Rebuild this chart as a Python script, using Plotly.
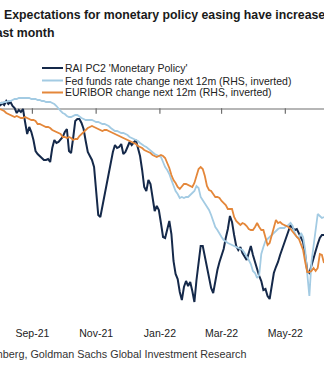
import pandas as pd
import plotly.graph_objects as go

# Observations every second calendar day
dates = pd.date_range("2021-08-01", periods=156, freq="2D")

# RAI PC2 'Monetary Policy' (LHS)
rai_pc2 = [
    0.03, 0.06, 0.04, 0.08, 0.05, 0.07, 0.03, 0.01, -0.04, -0.01,
    -0.03, 0.00, -0.13, -0.25, -0.18, -0.23, -0.31, -0.42, -0.45, -0.47,
    -0.48, -0.51, -0.51, -0.50, -0.53, -0.39, -0.31, -0.34, -0.33, -0.31,
    -0.28, -0.23, -0.20, -0.42, -0.44, -0.29, -0.12, -0.10, -0.10, -0.14,
    -0.20, -0.32, -0.43, -0.47, -0.51, -0.58, -0.81, -1.06, -1.08, -0.97,
    -0.87, -0.77, -0.68, -0.56, -0.43, -0.36, -0.39, -0.38, -0.35, -0.45,
    -0.43, -0.38, -0.33, -0.36, -0.33, -0.31, -0.39, -0.47, -0.61, -0.78,
    -0.82, -0.71, -0.75, -0.88, -1.02, -0.97, -1.01, -1.14, -1.28, -1.29,
    -1.20, -1.12, -1.25, -1.52, -1.65, -1.70, -1.83, -1.91, -1.78, -1.72,
    -1.77, -1.73, -1.82, -1.93, -1.71, -1.54, -1.37, -1.37, -1.48, -1.57,
    -1.68, -1.79, -1.84, -1.72, -1.61, -1.53, -1.46, -1.40, -1.29, -1.20,
    -1.07, -1.13, -1.26, -1.37, -1.41, -1.38, -1.44, -1.48, -1.51, -1.44,
    -1.37, -1.46, -1.53, -1.61, -1.67, -1.72, -1.81, -1.80, -1.87, -1.90,
    -1.79, -1.64, -1.58, -1.53, -1.46, -1.40, -1.33, -1.27, -1.20, -1.16,
    -1.19, -1.21, -1.20, -1.24, -1.28, -1.33, -1.46, -1.62, -1.64, -1.56,
    -1.50, -1.42, -1.35, -1.29, -1.26, -1.26,
]

# Fed funds rate change priced over the next 12 months, pp (RHS, inverted)
fed_funds_chg = [
    0.13, 0.13, 0.12, 0.12, 0.11, 0.11, 0.10, 0.09, 0.09, 0.08,
    0.08, 0.08, 0.08, 0.08, 0.08, 0.09, 0.09, 0.09, 0.10, 0.10,
    0.11, 0.11, 0.12, 0.12, 0.12, 0.13, 0.14, 0.16, 0.19, 0.21,
    0.23, 0.24, 0.26, 0.27, 0.27, 0.26, 0.25, 0.25, 0.27, 0.28,
    0.29, 0.30, 0.30, 0.30, 0.30, 0.31, 0.32, 0.32, 0.33, 0.34,
    0.34, 0.35, 0.36, 0.38, 0.40, 0.41, 0.41, 0.42, 0.43, 0.43,
    0.44, 0.45, 0.47, 0.48, 0.49, 0.50, 0.51, 0.53, 0.55, 0.56,
    0.57, 0.59, 0.61, 0.63, 0.64, 0.65, 0.66, 0.67, 0.72, 0.77,
    0.80, 0.84, 0.90, 0.96, 1.01, 1.04, 1.08, 1.07, 1.08, 1.07,
    1.07, 1.05, 1.03, 1.01, 0.96, 0.98, 1.07, 1.10, 1.13, 1.17,
    1.20, 1.25, 1.31, 1.37, 1.40, 1.44, 1.47, 1.50, 1.52, 1.53,
    1.54, 1.55, 1.56, 1.57, 1.58, 1.59, 1.60, 1.63, 1.66, 1.70,
    1.74, 1.81, 1.83, 1.88, 1.85, 1.64, 1.57, 1.51, 1.49, 1.47,
    1.45, 1.42, 1.40, 1.39, 1.38, 1.38, 1.38, 1.36, 1.35, 1.33,
    1.36, 1.43, 1.47, 1.48, 1.43, 1.47, 1.60, 1.84, 2.06, 1.72,
    1.57, 1.40, 1.24, 1.26, 1.28, 1.27,
]

# 3m EURIBOR change priced over the next 12 months, pp (RHS, inverted)
euribor_chg = [
    0.19, 0.20, 0.21, 0.23, 0.24, 0.25, 0.26, 0.27, 0.26, 0.27,
    0.28, 0.28, 0.27, 0.28, 0.29, 0.30, 0.30, 0.31, 0.34, 0.34,
    0.35, 0.36, 0.37, 0.37, 0.38, 0.40, 0.41, 0.42, 0.43, 0.44,
    0.47, 0.47, 0.48, 0.47, 0.48, 0.50, 0.49, 0.49, 0.46, 0.44,
    0.41, 0.39, 0.38, 0.37, 0.36, 0.37, 0.38, 0.39, 0.40, 0.41,
    0.40, 0.40, 0.41, 0.42, 0.43, 0.44, 0.45, 0.46, 0.47, 0.48,
    0.49, 0.50, 0.51, 0.52, 0.53, 0.54, 0.56, 0.57, 0.58, 0.60,
    0.61, 0.62, 0.63, 0.65, 0.66, 0.67, 0.66, 0.65, 0.66, 0.68,
    0.73, 0.78, 0.85, 0.90, 0.93, 0.97, 0.99, 0.97, 0.94, 0.94,
    0.95, 0.96, 0.97, 0.93, 0.87, 0.79, 0.77, 0.79, 0.86, 0.96,
    1.00, 1.01, 1.04, 1.07, 1.07, 1.08, 1.11, 1.13, 1.15, 1.19,
    1.19, 1.19, 1.27, 1.31, 1.33, 1.35, 1.33, 1.34, 1.36, 1.39,
    1.40, 1.40, 1.37, 1.33, 1.37, 1.40, 1.40, 1.49, 1.55, 1.53,
    1.45, 1.36, 1.30, 1.33, 1.32, 1.34, 1.35, 1.36, 1.37, 1.39,
    1.42, 1.44, 1.47, 1.49, 1.55, 1.60, 1.72, 1.82, 1.82, 1.81,
    1.78, 1.81, 1.78, 1.64, 1.65, 1.73,
]

tick_dates = ["2021-09-01", "2021-11-01", "2022-01-01", "2022-03-01", "2022-05-01"]
tick_text = ["Sep-21", "Nov-21", "Jan-22", "Mar-22", "May-22"]

series_names = [
    "RAI PC2 'Monetary Policy'",
    "Fed funds rate change next 12m (RHS, inverted)",
    "EURIBOR change next 12m (RHS, inverted)",
]

x_range = ["2021-08-01", "2022-06-07"]

W, H = 324, 373
TOP, BOTTOM = 90, 58
plot_h = H - TOP - BOTTOM


def py(pixel_y):
    """Paper y for a pixel row measured from the top of the page."""
    return (H - BOTTOM - pixel_y) / plot_h


def px(pixel_x):
    return pixel_x / W


NAVY = "#15294a"
LIGHT_BLUE = "#a3cbe3"
ORANGE = "#e4873a"
AXIS_GREY = "#6f6f6f"
colors = [NAVY, LIGHT_BLUE, ORANGE]
FONT = "Liberation Sans, Arial, sans-serif"

fig = go.Figure()

# Zero rule on the left-hand scale, with small month ticks hanging below it
fig.add_trace(go.Scatter(
    x=x_range, y=[0, 0], yaxis="y", mode="lines",
    line=dict(color=AXIS_GREY, width=1.2), hoverinfo="skip", showlegend=False,
))
fig.add_trace(go.Scatter(
    x=tick_dates, y=[-0.02] * len(tick_dates), yaxis="y", mode="markers",
    marker=dict(symbol="line-ns", size=4,
                line=dict(color=AXIS_GREY, width=1.2)),
    hoverinfo="skip", showlegend=False,
))

# Rate expectations on the inverted right-hand axis
fig.add_trace(go.Scatter(
    x=dates, y=fed_funds_chg, yaxis="y2", mode="lines",
    name=series_names[1], line=dict(color=LIGHT_BLUE, width=1.8),
    showlegend=False,
))
fig.add_trace(go.Scatter(
    x=dates, y=euribor_chg, yaxis="y2", mode="lines",
    name=series_names[2], line=dict(color=ORANGE, width=1.8),
    showlegend=False,
))
# Risk-appetite factor on the left-hand axis
fig.add_trace(go.Scatter(
    x=dates, y=rai_pc2, yaxis="y", mode="lines",
    name=series_names[0], line=dict(color=NAVY, width=2),
    showlegend=False,
))

shapes = []
annotations = []

# Compact legend: short line samples with labels
legend_rows = [68, 80.5, 92.5]
for name, color, row in zip(series_names, colors, legend_rows):
    shapes.append(dict(
        type="line", xref="paper", yref="paper",
        x0=px(42), x1=px(63), y0=py(row), y1=py(row),
        line=dict(color=color, width=2),
    ))
    annotations.append(dict(
        text=name, xref="paper", yref="paper", x=px(62.5), y=py(row),
        xanchor="left", yanchor="middle", showarrow=False,
        font=dict(family=FONT, size=10.5, color="#222222"),
    ))

annotations += [
    dict(
        text="<b>Expectations for monetary policy easing have increased</b>",
        xref="paper", yref="paper", x=px(2), y=py(15),
        xanchor="left", yanchor="middle", showarrow=False,
        font=dict(family=FONT, size=12.3, color="#1a1a1a"),
    ),
    dict(
        text="<b>over the last month</b>",
        xref="paper", yref="paper", x=px(56), y=py(33),
        xanchor="right", yanchor="middle", showarrow=False,
        font=dict(family=FONT, size=12.3, color="#1a1a1a"),
    ),
    dict(
        text="Source: Bloomberg, Goldman Sachs Global Investment Research",
        xref="paper", yref="paper", x=px(248), y=py(354),
        xanchor="right", yanchor="middle", showarrow=False,
        font=dict(family=FONT, size=10.8, color="#333333"),
    ),
]

fig.update_layout(
    width=W, height=H,
    margin=dict(l=0, r=0, t=TOP, b=BOTTOM, pad=0),
    paper_bgcolor="white", plot_bgcolor="white",
    showlegend=False,
    xaxis=dict(
        type="date", range=x_range,
        tickvals=tick_dates, ticktext=tick_text,
        showgrid=False, zeroline=False, showline=False,
        ticks="outside", ticklen=8, tickcolor="rgba(0,0,0,0)",
        tickfont=dict(family=FONT, size=10.5, color="#222222"),
    ),
    yaxis=dict(range=[-2.06, 0.19], visible=False),
    yaxis2=dict(range=[2.25, 0.0], overlaying="y", side="right", visible=False),
    shapes=shapes,
    annotations=annotations,
)

fig.write_html("out.html")
